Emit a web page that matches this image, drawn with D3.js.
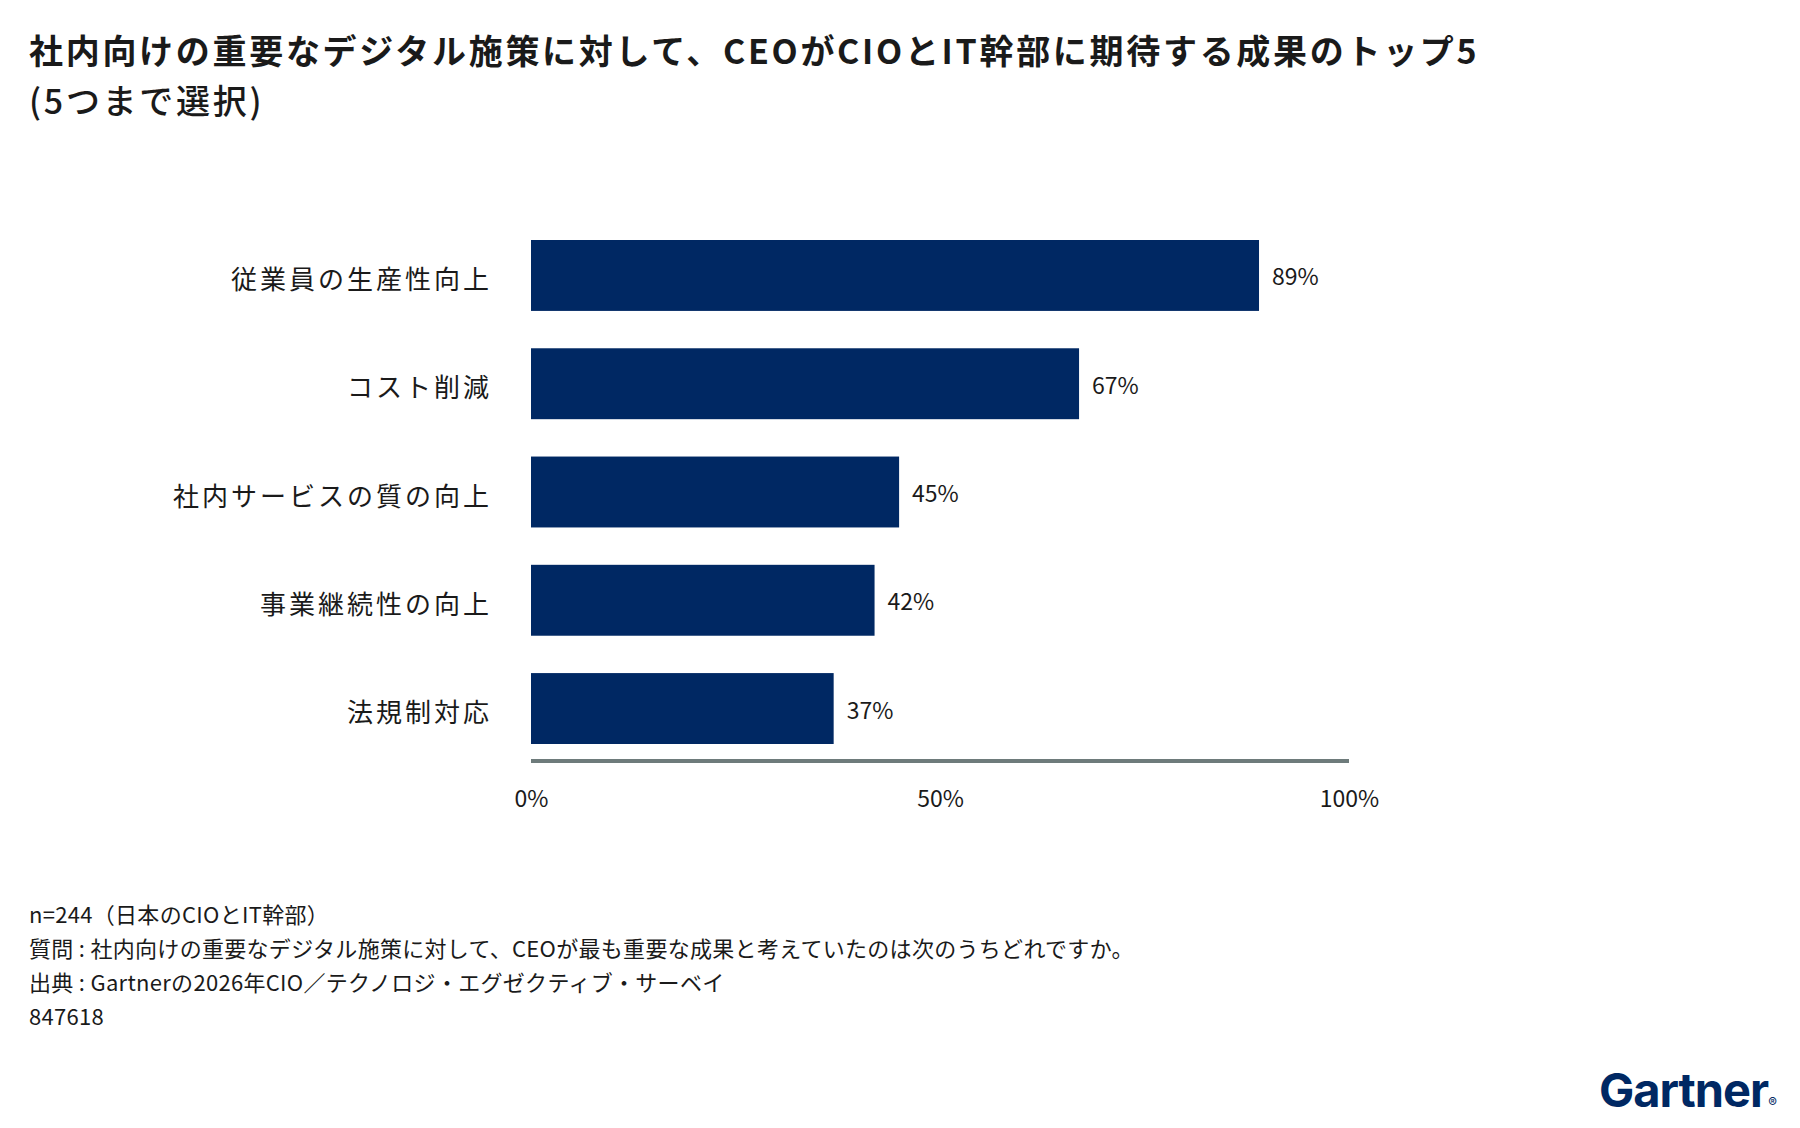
<!DOCTYPE html>
<html lang="ja">
<head>
<meta charset="UTF-8">
<title>CEOがCIOとIT幹部に期待する成果のトップ5</title>
<script src="https://d3js.org/d3.v7.min.js"></script>
<style>
  body { margin: 0; background: #fff; }
  svg { display: block; }
  text { font-family: "Noto Sans CJK JP", "Noto Sans", sans-serif; fill: #1a1a1a; }
  .axis path, .axis line { display: none; }
</style>
</head>
<body>
<script>
// data
const categories = ["従業員の生産性向上", "コスト削減", "社内サービスの質の向上", "事業継続性の向上", "法規制対応"];
const values = [89, 67, 45, 42, 37];
const xTicks = [0, 50, 100];
const titleLines = ["社内向けの重要なデジタル施策に対して、CEOがCIOとIT幹部に期待する成果のトップ5", "(5つまで選択)"];
const notes = [
  "n=244（日本のCIOとIT幹部）",
  "質問 : 社内向けの重要なデジタル施策に対して、CEOが最も重要な成果と考えていたのは次のうちどれですか。",
  "出典 : Gartnerの2026年CIO／テクノロジ・エグゼクティブ・サーベイ",
  "847618"
];

const width = 1800, height = 1128;
const navy = "#002863";

const svg = d3.select("body").append("svg")
  .attr("width", width).attr("height", height);

// title
svg.append("text").attr("x", 29).attr("y", 64)
  .style("font-size", "34px").style("font-weight", 700)
  .style("letter-spacing", "2.7px")
  .text(titleLines[0]);
svg.append("text").attr("x", 29).attr("y", 114)
  .style("font-size", "34px").style("font-weight", 500)
  .style("letter-spacing", "2.7px")
  .text(titleLines[1]);

// scales
const x = d3.scaleLinear().domain([0, 100]).range([531, 1349]);
const y = d3.scaleBand().domain(categories).range([240, 744]).paddingInner(0.345);

const data = categories.map((c, i) => ({ cat: c, val: values[i] }));

svg.append("g").selectAll("rect")
  .data(data).enter().append("rect")
  .attr("x", x(0))
  .attr("y", d => y(d.cat))
  .attr("width", d => x(d.val) - x(0))
  .attr("height", y.bandwidth())
  .attr("fill", navy);

// value labels
svg.append("g").selectAll("text")
  .data(data).enter().append("text")
  .attr("x", d => x(d.val) + 13)
  .attr("y", d => y(d.cat) + y.bandwidth() / 2)
  .attr("dominant-baseline", "central")
  .style("font-size", "23px")
  .text(d => d.val + "%");

// category labels
svg.append("g").selectAll("text")
  .data(data).enter().append("text")
  .attr("x", 492)
  .attr("y", d => y(d.cat) + y.bandwidth() / 2 + 2)
  .attr("text-anchor", "end")
  .attr("dominant-baseline", "central")
  .style("font-size", "26px")
  .style("letter-spacing", "3px")
  .text(d => d.cat);

// baseline axis line
svg.append("line")
  .attr("x1", x(0)).attr("x2", x(100))
  .attr("y1", 761).attr("y2", 761)
  .attr("stroke", "#6e7b7b").attr("stroke-width", 4);

// tick labels
const xAxis = svg.append("g").attr("class", "axis")
  .attr("transform", "translate(0,785)")
  .call(d3.axisBottom(x).tickValues(xTicks).tickFormat(d => d + "%").tickSize(0).tickPadding(6));
xAxis.selectAll("text")
  .style("font-size", "23px")
  .style("font-family", "\"Noto Sans CJK JP\", sans-serif")
  .attr("fill", "#1a1a1a");

// footnotes
svg.append("g").selectAll("text")
  .data(notes).enter().append("text")
  .attr("x", 29)
  .attr("y", (d, i) => 923 + i * 34)
  .style("font-size", "22px")
  .style("letter-spacing", "0.3px")
  .text(d => d);

// logo
const logo = svg.append("text").attr("x", 1599).attr("y", 1107)
  .style("font-family", "Inter, Roboto, sans-serif")
  .style("font-size", "47px").style("font-weight", 700)
  .style("letter-spacing", "-1px")
  .attr("fill", navy);
logo.append("tspan").text("Gartner").attr("fill", navy);
logo.append("tspan").text("®").style("font-size", "13px").style("font-weight", 400).attr("fill", navy);
</script>
</body>
</html>
